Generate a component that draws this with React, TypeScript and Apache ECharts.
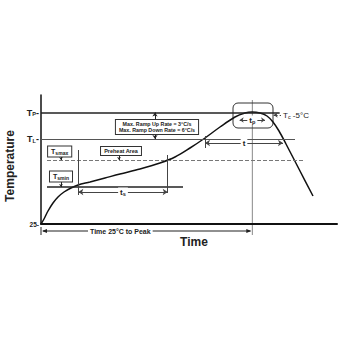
import React, { useEffect, useRef } from "react";
import * as echarts from "echarts";

// Reflow profile (time in s, temperature in °C)
const profileTime = [0, 4.5, 10.5, 18, 25.5, 34.5, 45, 55.5, 73.5, 96, 118.5, 148.5, 178.5, 201, 223.5, 246, 268.5, 291, 306, 316.5, 328.5, 339, 348, 357, 367.5, 388.5, 408];
const profileTemp = [25, 35, 51, 67, 79, 89, 97, 103, 109, 117, 125, 135, 147, 159, 177, 197, 219, 239, 247, 249, 247, 241, 229, 211, 185, 131, 81];

// Temperature levels: Tp, TL, Tc-5, Tsmax, Tsmin, 25
const levelTemps = [248, 195, 243, 153, 99, 25];
// Time marks: ts start/end, t start/end, tp start/end, peak
const tsRange = [56, 190];
const tRange = [246, 363];
const tpRange = [298, 336];
const peakTime = 317;
const axisRange = [0, 444, 25, 283];

const FONT = "Liberation Sans, Arial, sans-serif";

export default function App() {
  const ref = useRef<HTMLDivElement>(null);
  useEffect(() => {
    if (!ref.current) return;
    const chart = echarts.init(ref.current, undefined, { renderer: "svg" });
    const [TP, TL, TC5, TSMAX, TSMIN, T25] = levelTemps;
    const ink = "#222";
    const seg = (
      from: number[],
      to: number[],
      o: { s0?: string; s1?: string; color?: string; width?: number; type?: string; label?: any; ss?: number } = {}
    ) => [
      {
        coord: from,
        symbol: o.s0 || "none",
        symbolSize: o.ss || 5,
        lineStyle: { color: o.color || ink, width: o.width || 1, type: o.type || "solid" },
        label: o.label || { show: false },
      },
      { coord: to, symbol: o.s1 || "none", symbolSize: o.ss || 5 },
    ];
    const midLabel = (fmt: string, size = 8) => ({
      show: true,
      position: "insideMiddle",
      distance: 0,
      formatter: fmt,
      backgroundColor: "#fff",
      padding: [0, 2],
      color: ink,
      fontFamily: FONT,
      fontWeight: "bold",
      fontSize: size,
      rich: {
        a: { fontSize: size, fontWeight: "bold", fontFamily: FONT, color: ink },
        b: { fontSize: size * 0.7, fontWeight: "bold", fontFamily: FONT, color: ink, verticalAlign: "bottom", padding: [3, 0, 0, 0] },
      },
    });

    const marks = [
      seg([0, TP], [358, TP], { width: 1.5 }),
      seg([0, TL], [381, TL], { color: "#555", width: 1 }),
      seg([9, TSMAX], [396, TSMAX], { color: "#777", width: 1, type: "dashed" }),
      seg([9, TSMIN], [213, TSMIN], { width: 1.5 }),
      seg([tsRange[0], 173], [tsRange[0], 83], { color: "#444" }),
      seg([tsRange[1], 163], [tsRange[1], 87], { color: "#444" }),
      seg([tRange[0], 201], [tRange[0], 177], { color: "#444" }),
      seg([tsRange[0], 89], [tsRange[1], 89], { s0: "arrow", s1: "arrow", color: "#444", label: midLabel("{a|t}{b|s}") }),
      seg([tRange[0], 187], [tRange[1], 187], { s0: "arrow", s1: "arrow", color: "#444", label: midLabel("{a|t}") }),
      seg([tpRange[0], 233], [tpRange[1], 233], { s0: "arrow", s1: "arrow", color: "#444", ss: 4, label: midLabel("{a|t}{b|p}") }),
      seg([349, TC5], [360, TC5], {
        s0: "arrow",
        color: "#444",
        type: "dashed",
        ss: 4,
        label: {
          show: true,
          position: "end",
          distance: 2,
          formatter: "{a|T}{b|c}{a| -5°C}",
          rich: {
            a: { fontSize: 8, fontFamily: FONT, color: ink },
            b: { fontSize: 5.5, fontFamily: FONT, color: ink, verticalAlign: "bottom", padding: [4, 0, 0, 0] },
          },
        },
      }),
      seg([171, TP], [171, TL], { s0: "arrow", s1: "arrow", ss: 4 }),
      seg([30, 161], [30, TSMAX], { s1: "arrow", ss: 3 }),
      seg([30, 111], [30, TSMIN], { s1: "arrow", ss: 3 }),
      seg([117, 163], [117, TSMAX], { s1: "arrow", ss: 3 }),
    ];

    chart.setOption({
      animation: false,
      backgroundColor: "#fff",
      grid: { left: 41, right: 3, top: 95, bottom: 116 },
      xAxis: {
        type: "value",
        min: axisRange[0],
        max: axisRange[1],
        axisLine: { lineStyle: { color: "#111", width: 2 } },
        axisTick: { show: false },
        axisLabel: { show: false },
        splitLine: { show: false },
      },
      yAxis: {
        type: "value",
        min: axisRange[2],
        max: axisRange[3],
        axisLine: { show: true, lineStyle: { color: "#111", width: 1.5 } },
        axisTick: { show: false },
        axisLabel: { show: false },
        splitLine: { show: false },
      },
      series: [
        {
          type: "line",
          data: profileTime.map((t, i) => [t, profileTemp[i]]),
          smooth: 0.35,
          showSymbol: false,
          symbol: "none",
          clip: false,
          lineStyle: { color: "#111", width: 1.5 },
          silent: true,
          markLine: {
            silent: true,
            symbol: ["none", "none"],
            label: { show: false },
            emphasis: { disabled: true },
            data: marks,
          },
        },
      ],
    });

    const p = (t: number, T: number) => chart.convertToPixel({ xAxisIndex: 0, yAxisIndex: 0 }, [t, T]) as number[];
    const [x0, yBase] = p(0, T25);
    const [xPk, yTime] = p(peakTime, 11);
    const yTop = p(peakTime, 273)[1];
    const yBot = p(peakTime, 3)[1];
    const [, yTp] = p(0, TP);
    const [, yTl] = p(0, TL);
    const sub = (size: number, r = 0.62) => ({
      a: { fontSize: size, fontWeight: "bold", fontFamily: FONT, fill: ink },
      b: { fontSize: size * r, fontWeight: "bold", fontFamily: FONT, fill: ink, verticalAlign: "bottom", padding: [3, 0, 0, 0] },
    });
    const box = (t: number, T: number, text: string, size: number, rich?: any, lh?: number) => {
      const [x, y] = p(t, T);
      return {
        type: "text",
        x,
        y,
        z: 10,
        style: {
          text,
          align: "center",
          verticalAlign: "middle",
          fontSize: size,
          fontWeight: "bold",
          fontFamily: FONT,
          fill: ink,
          lineHeight: lh,
          backgroundColor: "#fff",
          borderColor: "#333",
          borderWidth: 1,
          padding: [1, 3],
          rich,
        },
      };
    };
    const [rx1, ry1] = p(288, 267);
    const [rx2, ry2] = p(348, 217);
    const [lblX] = p(119, 11);

    chart.setOption({
      graphic: [
        { type: "line", shape: { x1: xPk, y1: yTop, x2: xPk, y2: yBot }, style: { stroke: "#888", lineWidth: 1 } },
        { type: "line", shape: { x1: x0 + 2, y1: yTime, x2: xPk - 2, y2: yTime }, style: { stroke: ink, lineWidth: 1.2 } },
        { type: "line", shape: { x1: x0, y1: yTime - 4, x2: x0, y2: yTime + 4 }, style: { stroke: ink, lineWidth: 1 } },
        { type: "polygon", shape: { points: [[x0 + 1, yTime], [x0 + 6, yTime - 2], [x0 + 6, yTime + 2]] }, style: { fill: ink } },
        { type: "polygon", shape: { points: [[xPk - 1, yTime], [xPk - 6, yTime - 2], [xPk - 6, yTime + 2]] }, style: { fill: ink } },
        {
          type: "text",
          x: lblX,
          y: yTime,
          style: {
            text: "Time 25°C to Peak",
            align: "center",
            verticalAlign: "middle",
            fontSize: 7,
            fontWeight: "bold",
            fontFamily: FONT,
            fill: ink,
            backgroundColor: "#fff",
            padding: [0, 2],
          },
        },
        { type: "text", x: x0 - 2, y: yBase, style: { text: "25-", align: "right", verticalAlign: "middle", fontSize: 6.5, fontWeight: "bold", fontFamily: FONT, fill: ink } },
        { type: "text", x: x0 - 2, y: yTp, style: { text: "{a|T}{b|P}{a|-}", align: "right", verticalAlign: "middle", rich: sub(9) } },
        { type: "text", x: x0 - 2, y: yTl, style: { text: "{a|T}{b|L}{a|-}", align: "right", verticalAlign: "middle", rich: sub(9) } },
        box(28, 170, "{a|T}{b|smax}", 7, sub(7, 0.72)),
        box(30, 120, "{a|T}{b|smin}", 7, sub(7, 0.72)),
        box(120, 171, "Preheat Area", 5.5),
        box(174, 219, "Max. Ramp Up Rate = 3°C/s\nMax. Ramp Down Rate = 6°C/s", 5.3, undefined, 6),
        {
          type: "rect",
          shape: { x: rx1, y: ry1, width: rx2 - rx1, height: ry2 - ry1, r: 5 },
          style: { fill: "none", stroke: "#333", lineWidth: 1 },
        },
        {
          type: "text",
          x: 10,
          y: 166,
          rotation: Math.PI / 2,
          style: { text: "Temperature", align: "center", verticalAlign: "middle", fontSize: 12, fontWeight: "bold", fontFamily: FONT, fill: ink },
        },
        {
          type: "text",
          x: 194,
          y: 242,
          style: { text: "Time", align: "center", verticalAlign: "middle", fontSize: 12, fontWeight: "bold", fontFamily: FONT, fill: ink },
        },
      ],
    });

    return () => chart.dispose();
  }, []);
  return <div ref={ref} style={{ position: "fixed", left: 0, top: 0, width: 340, height: 340 }} />;
}
